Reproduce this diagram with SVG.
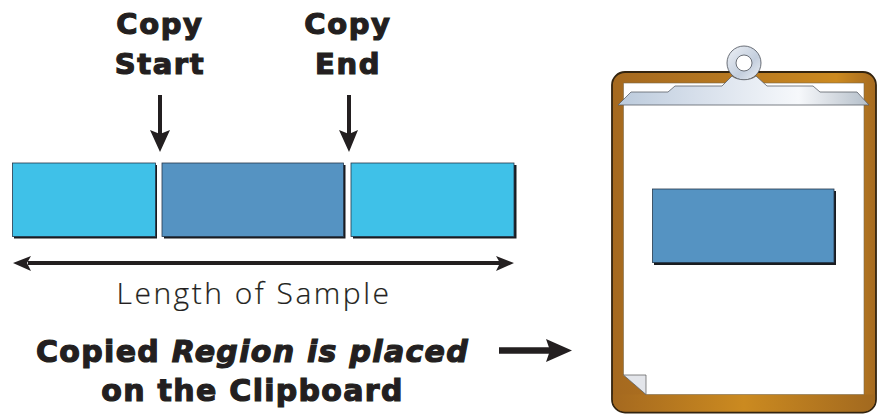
<svg xmlns="http://www.w3.org/2000/svg" width="884" height="420" viewBox="0 0 884 420">
<style>
.hd{font-family:"DejaVu Sans",sans-serif;font-weight:700;font-size:29px;letter-spacing:1.6px;fill:#231f20;stroke:#231f20;stroke-width:1.2px;text-anchor:middle}
.it{font-family:"DejaVu Sans",sans-serif;font-weight:700;font-size:30px;letter-spacing:1.3px;fill:#231f20;stroke:#231f20;stroke-width:1.2px;text-anchor:middle}
.ob{font-style:italic}
.lg{font-family:"Open Sans",sans-serif;font-weight:300;font-size:30px;letter-spacing:2.5px;fill:#231f20;stroke:#231f20;stroke-width:.2px;text-anchor:middle}
.ln{stroke:#231f20;fill:none}
.ah{fill:#231f20}
.seg{stroke:#26384c;stroke-width:.8}
.sh{fill:#1a1c20}
</style>
<defs>
<linearGradient id="wood" x1="0" x2="1" y1="0" y2="0"><stop offset="0" stop-color="#a5691f"/><stop offset=".5" stop-color="#b97a20"/><stop offset=".85" stop-color="#cc8a20"/><stop offset="1" stop-color="#a56a20"/></linearGradient>
<linearGradient id="woodb" x1="0" x2="1" y1="0" y2="0"><stop offset="0" stop-color="#a5691f"/><stop offset=".5" stop-color="#cb8a20"/><stop offset="1" stop-color="#a2691f"/></linearGradient>
<linearGradient id="metal" x1="0" x2="1" y1="0" y2="0"><stop offset="0" stop-color="#bccbdc"/><stop offset=".3" stop-color="#d5deea"/><stop offset=".72" stop-color="#f6f8fb"/><stop offset=".85" stop-color="#d8dde3"/><stop offset="1" stop-color="#b4bfca"/></linearGradient>
<linearGradient id="ring" x1="0" x2="1" y1="0" y2="1"><stop offset="0" stop-color="#eef1f6"/><stop offset=".6" stop-color="#c3cedd"/><stop offset="1" stop-color="#eef1f6"/></linearGradient>
</defs>
<g id="segment-left"><rect class="sh" x="14" y="165" width="143" height="73.500"/><rect class="seg" x="12.500" y="163" width="143" height="73.500" fill="#3fc1e8"/></g>
<g id="segment-middle"><rect class="sh" x="164" y="165" width="181.500" height="73.500"/><rect class="seg" x="162" y="163" width="181.500" height="73.500" fill="#5593c2"/></g>
<g id="segment-right"><rect class="sh" x="353" y="165" width="163.500" height="73.500"/><rect class="seg" x="351" y="163" width="163" height="73.500" fill="#3fc1e8"/></g>
<g id="connectors">
<path class="ln" stroke-width="4" d="M160 95V135M349 95V135"/>
<path class="ah" d="M150 130L160 134L170 130L160 152Z"/>
<path class="ah" d="M339 130L349 134L358 130L349 152Z"/>
<path class="ln" stroke-width="4" d="M28 263H500"/>
<path class="ah" d="M13 263L31 256L27 263L31 271Z"/>
<path class="ah" d="M514 263L496 256L500 263L496 271Z"/>
<path class="ln" stroke-width="6.500" d="M499 350.500H552"/>
<path class="ah" d="M572 350.500L546 339L550 350.500L546 362Z"/>
</g>
<g id="label-copy-start"><text class="hd" x="160" y="34">Copy</text><text class="hd" x="160" y="74">Start</text></g>
<g id="label-copy-end"><text class="hd" x="348" y="34">Copy</text><text class="hd" x="348" y="74">End</text></g>
<g id="label-length"><text class="lg" x="254" y="304">Length of Sample</text></g>
<g id="label-copied"><text class="it" x="252.500" y="362">Copied <tspan class="ob">Region is placed</tspan></text><text class="it" x="252.500" y="401">on the Clipboard</text></g>
<g id="clipboard">
<rect x="612" y="72" width="264" height="340.500" rx="13" fill="url(#wood)" stroke="#33240f" stroke-width="1.800"/>
<path d="M612.900 394.500H875.100V399.500A12.100 12.100 0 0 1 863 411.600H625A12.100 12.100 0 0 1 612.900 399.500Z" fill="url(#woodb)"/>
<path d="M623.500 83H864V394.500H646L623.500 375Z" fill="#fff" stroke="#7a6a4a" stroke-width=".6"/>
<path d="M623.500 375L646 375V394.500Z" fill="#e3e5ea" stroke="#555" stroke-width=".7"/>
<g id="clip">
<circle cx="744" cy="63" r="17" fill="url(#ring)" stroke="#4a4f58" stroke-width=".8"/>
<circle cx="744" cy="63" r="8" fill="#fff" stroke="#4a4f58" stroke-width=".8"/>
<path d="M618 105L631 92H668L675 86H722L732 76C738 81 750 81 756 76L767 86H813L820 92H857L869 105Z" fill="url(#metal)" stroke="#5a5f68" stroke-width=".8"/>
</g>
<g id="copied-segment"><rect class="sh" x="654" y="191" width="182" height="74"/><rect class="seg" x="652.500" y="189" width="181.500" height="73.500" fill="#5593c2"/></g>
</g>
</svg>
